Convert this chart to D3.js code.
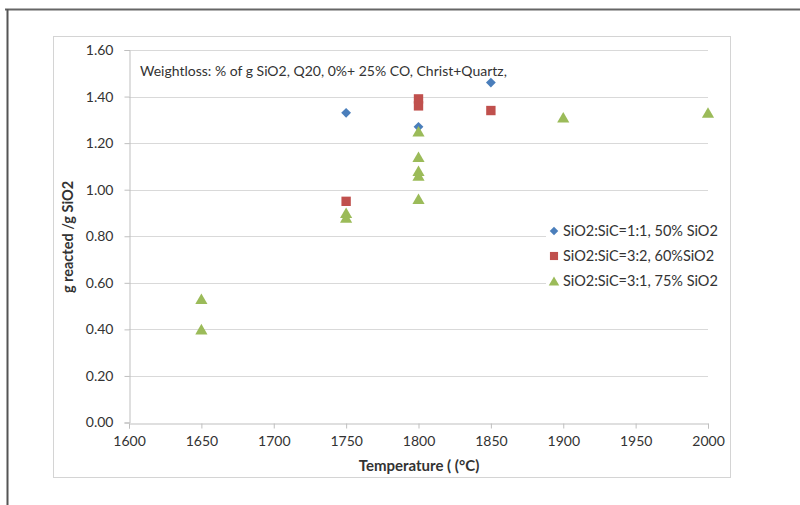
<!DOCTYPE html>
<html>
<head>
<meta charset="utf-8">
<script src="https://cdn.jsdelivr.net/npm/d3@7"></script>
<style>
  html, body { margin: 0; padding: 0; background: #fff; }
  svg { display: block; }
  text { font-family: Lato, "Open Sans", sans-serif; fill: #333; }
</style>
</head>
<body>
<svg id="chart" width="800" height="505"></svg>
<script>
// Temperature (°C) and grams reacted per gram SiO2, one array pair per mix
const xTicks = [1600, 1650, 1700, 1750, 1800, 1850, 1900, 1950, 2000];
const yTicks = [0, 0.2, 0.4, 0.6, 0.8, 1.0, 1.2, 1.4, 1.6];

const s1Temp  = [1750, 1800, 1850];
const s1Value = [1.33, 1.27, 1.46];

const s2Temp  = [1750, 1800, 1800, 1850];
const s2Value = [0.95, 1.39, 1.36, 1.34];

const s3Temp  = [1650, 1650, 1750, 1750, 1800, 1800, 1800, 1800, 1800, 1900, 2000];
const s3Value = [0.53, 0.40, 0.90, 0.88, 1.25, 1.14, 1.08, 1.06, 0.96, 1.31, 1.33];

const seriesNames = ["SiO2:SiC=1:1, 50% SiO2", "SiO2:SiC=3:2, 60%SiO2", "SiO2:SiC=3:1, 75% SiO2"];
const chartTitle = "Weightloss: % of g SiO2, Q20, 0%+ 25% CO, Christ+Quartz,";
const xTitle = "Temperature ( (°C)";
const yTitle = "g reacted /g SiO2";

// diamonds are squares turned 45°; triangles are nudged so their box centre sits on the value
const series = [
  { name: seriesNames[0], temp: s1Temp, value: s1Value, symbol: d3.symbolSquare,   size: 48, color: "#4a7ebb", rot: 45, dy: 0 },
  { name: seriesNames[1], temp: s2Temp, value: s2Value, symbol: d3.symbolSquare,   size: 88, color: "#c0504d", rot: 0,  dy: 0 },
  { name: seriesNames[2], temp: s3Temp, value: s3Value, symbol: d3.symbolTriangle, size: 64, color: "#9bbb59", rot: 0,  dy: 1.5 }
];

const svg = d3.select("#chart");

// outer frame
svg.append("line").attr("x1", 5).attr("x2", 800).attr("y1", 9.5).attr("y2", 9.5)
  .attr("stroke", "#666").attr("stroke-width", 2);
svg.append("line").attr("x1", 7.5).attr("x2", 7.5).attr("y1", 9).attr("y2", 505)
  .attr("stroke", "#555").attr("stroke-width", 2);

// chart area border
svg.append("rect").attr("x", 53.5).attr("y", 36.5).attr("width", 677).attr("height", 441)
  .attr("fill", "#fff").attr("stroke", "#d4d4d4");

const x = d3.scaleLinear().domain([1600, 2000]).range([129, 708]);
const y = d3.scaleLinear().domain([0, 1.6]).range([422.5, 50]);

// horizontal gridlines
svg.append("g").selectAll("line").data(yTicks.filter(v => v > 0)).join("line")
  .attr("x1", x(1600)).attr("x2", x(2000))
  .attr("y1", d => Math.round(y(d)) + 0.5).attr("y2", d => Math.round(y(d)) + 0.5)
  .attr("stroke", "#d9d9d9");

// y axis
const yAxis = svg.append("g").attr("transform", `translate(${x(1600) + 0.5},0)`)
  .call(d3.axisLeft(y).tickValues(yTicks).tickFormat(d3.format(".2f")).tickSize(5).tickPadding(11));
// x axis
const xAxis = svg.append("g").attr("transform", `translate(0,${Math.round(y(0)) + 0.5})`)
  .call(d3.axisBottom(x).tickValues(xTicks).tickFormat(d3.format("d")).tickSize(5).tickPadding(8));

[yAxis, xAxis].forEach(a => {
  a.select(".domain").attr("stroke", "#bfbfbf");
  a.selectAll(".tick line").attr("stroke", "#bfbfbf");
  a.selectAll("text").attr("font-size", 14).attr("fill", "#333")
    .style("font-family", "Lato, 'Open Sans', sans-serif");
});

// title inside the plot
svg.append("text").attr("x", 140).attr("y", 76).attr("font-size", 14).text(chartTitle);

// axis titles
svg.append("text").attr("x", 419).attr("y", 471).attr("text-anchor", "middle")
  .attr("font-size", 15).attr("font-weight", "bold").text(xTitle);
svg.append("text").attr("transform", "translate(73,237) rotate(-90)").attr("text-anchor", "middle")
  .attr("font-size", 14.5).attr("font-weight", "bold").text(yTitle);

// legend
const legend = svg.append("g");
legend.append("rect").attr("x", 546).attr("y", 218).attr("width", 182).attr("height", 76).attr("fill", "#fff");
series.forEach((s, i) => {
  const ly = 231 + i * 25;
  legend.append("path").attr("d", d3.symbol().type(s.symbol).size(s.size * 0.75)())
    .attr("transform", `translate(554,${ly + s.dy}) rotate(${s.rot})`).attr("fill", s.color);
  legend.append("text").attr("x", 563).attr("y", ly + 5).attr("font-size", 14.5).text(s.name);
});

// markers
series.forEach(s => {
  svg.append("g").selectAll("path").data(s.temp.map((t, i) => [t, s.value[i]])).join("path")
    .attr("d", d3.symbol().type(s.symbol).size(s.size)())
    .attr("transform", d => `translate(${x(d[0])},${y(d[1]) + s.dy}) rotate(${s.rot})`)
    .attr("fill", s.color);
});
</script>
</body>
</html>
